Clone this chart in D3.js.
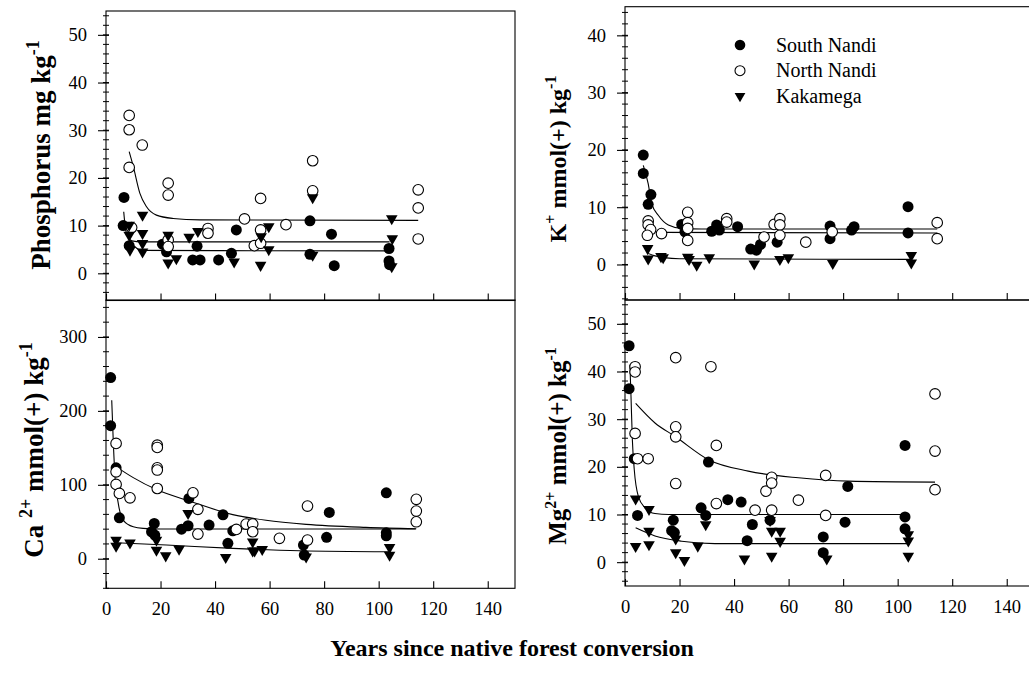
<!DOCTYPE html>
<html>
<head>
<meta charset="utf-8">
<script src="https://cdn.jsdelivr.net/npm/d3@7"></script>
<style>
  body { margin: 0; background: #fff; }
  text { font-family: "Liberation Serif", "Times New Roman", serif; white-space: pre; }
</style>
</head>
<body>
<div class="chart"></div>
<script>
// x ticks shared by all panels
var xTicks = [0, 20, 40, 60, 80, 100, 120, 140];
var seriesNames = ["South Nandi", "North Nandi", "Kakamega"];

// Phosphorus (mg kg-1)
var pTicks = [0, 10, 20, 30, 40, 50];
var pSouth = [[6.6,15.9],[6.3,10.0],[8.5,5.8],[20.7,6.1],[22.2,4.5],[33.4,5.7],[31.8,2.8],[34.5,2.8],[41.3,2.8],[46,4.2],[47.8,9.1],[74.8,11.0],[74.8,4.0],[82.7,8.2],[83.7,1.6],[103.8,5.2],[103.8,2.6],[104,1.8]];
var pNorth = [[8.5,33.1],[8.5,30.1],[13.3,26.9],[8.5,22.2],[9.4,9.6],[22.8,18.9],[22.8,16.4],[22.8,7.0],[22.8,5.6],[37.4,9.4],[37.4,8.4],[50.8,11.4],[54.4,5.8],[56.7,6.3],[56.7,9.1],[56.7,15.7],[66,10.2],[75.8,23.6],[75.8,17.3],[114.5,17.5],[114.5,13.7],[114.5,7.2]];
var pKaka = [[13.4,12.2],[8.5,10.1],[8.5,8.0],[13.4,8.4],[13.4,6.3],[8.8,4.9],[13.4,4.5],[22.8,8.0],[22.8,2.2],[25.8,3.1],[30.5,7.6],[33.7,8.8],[47,2.4],[56.7,1.7],[56.9,7.7],[59.7,9.8],[59.7,5.0],[75.8,15.9],[75.8,3.8],[104.8,11.5],[105,7.3],[104.8,1.4]];
var pCurveSouth = [[6.5,12.9],[7,10],[8,7.6],[9.5,6.8],[13,6.6],[104,6.6]];
var pCurveNorth = [[8.5,25.5],[10,22.4],[12.4,16.8],[14.8,14.0],[18.5,12.2],[24.6,11.5],[34.4,11.2],[114.5,11.1]];
var pCurveKaka = [[8.5,7.2],[10.5,5.6],[13.5,4.8],[104,4.7]];

// Potassium K+
var kTicks = [0, 10, 20, 30, 40];
var kSouth = [[6.7,19.1],[6.7,15.9],[9.5,12.2],[8.5,10.5],[20.8,7.0],[22,5.7],[31.8,5.8],[33.6,6.9],[34.6,6.0],[41.3,6.6],[46.1,2.7],[48.2,2.5],[49.7,3.5],[55.8,3.9],[75.2,6.7],[75.2,4.5],[83.1,6.0],[84,6.6],[103.8,10.1],[103.8,5.5]];
var kNorth = [[8.5,7.6],[8.5,6.9],[9.4,6.1],[8.2,5.1],[13.4,5.4],[23,9.1],[23,7.3],[23,6.3],[23,4.2],[37.3,8.0],[37.3,7.4],[54.7,7.0],[56.8,8.0],[56.8,6.9],[56.8,5.1],[51,4.8],[66.3,3.9],[76,5.7],[114.5,7.3],[114.5,4.5]];
var kKaka = [[8.3,2.8],[8.5,1.0],[13.2,1.4],[14,1.2],[23,1.3],[23.5,0.9],[26.3,-0.1],[30.9,1.2],[47.4,0.1],[56.8,0.9],[59.9,1.2],[76.2,0.2],[105,1.6],[105,0.3]];
var kCurveSouth = [[6.7,17.3],[8.5,14.1],[9.8,10.6],[12.2,8.6],[15.9,6.9],[20.8,6.3],[28,6.2],[114.5,6.2]];
var kCurveNorth = [[13,5.6],[114.5,5.5]];
var kCurveKaka = [[8.5,1.9],[11,1.5],[14.3,1.2],[20,1.0],[105,0.9]];

// Calcium Ca2+
var cTicks = [0, 100, 200, 300];
var cSouth = [[1.7,245],[1.7,180],[3.7,123],[4.9,55.4],[17.7,47.8],[16.7,36.5],[17.9,32],[27.7,40],[30.1,44.6],[30.4,81.6],[37.8,45.5],[42.9,59.5],[44.7,20.8],[46.5,37.8],[72.4,18.5],[72.7,5],[80.9,28.9],[81.9,62.7],[102.8,89.2],[102.8,35],[102.8,31]];
var cNorth = [[3.7,156],[3.7,117.6],[3.7,100.5],[4.9,88.4],[8.8,82.4],[18.8,153.6],[18.8,150.5],[18.8,123],[18.8,120],[18.8,95],[31.9,89.2],[33.7,66.8],[33.7,33.4],[47.8,39.7],[51.4,46.9],[53.8,46.9],[53.8,36.5],[63.6,27.6],[73.9,71.2],[73.9,25.3],[113.8,80.3],[113.8,64.5],[113.8,50]];
var cKaka = [[3.7,25.3],[3.7,17.2],[8.8,21.6],[18.5,25.3],[18.5,11.8],[21.9,4.1],[26.8,13.1],[30.1,61.4],[43.9,1.9],[53.8,23],[53.8,10.8],[54.5,10.8],[57.3,12.7],[73.4,2.7],[104,15.4],[104,5]];
var cCurveSouth = [[2.1,214.5],[2.7,156],[3.3,110.8],[4.5,74.9],[6.3,52.3],[10,43.2],[13.6,41.1],[20,40.3],[113.6,40.3]];
var cCurveNorth = [[3.5,125],[10,109.7],[18.5,93.5],[31,77.5],[46.5,59.7],[58.7,52],[73.4,46.5],[95.3,42.4],[113.8,40.5]];
var cCurveKaka = [[3.7,21.6],[22.2,18.5],[46.5,14],[70.9,10.8],[103.8,9.5]];

// Magnesium Mg2+
var mTicks = [0, 10, 20, 30, 40, 50];
var mSouth = [[1.5,45.4],[1.5,36.4],[3.4,21.7],[4.6,9.8],[17.7,8.8],[17.1,6.6],[18.1,6.2],[27.9,11.4],[29.6,9.8],[30.6,21],[37.7,13.1],[42.6,12.6],[44.8,4.5],[46.7,7.9],[53.2,8.8],[72.7,5.3],[72.7,2],[80.7,8.4],[81.7,15.9],[102.7,24.5],[102.7,9.5],[102.7,7]];
var mNorth = [[3.7,41],[3.7,39.9],[3.7,27],[4.6,21.7],[8.5,21.7],[18.6,42.9],[18.6,28.4],[18.6,26.3],[18.6,16.5],[31.5,41],[33.5,24.5],[33.5,12.3],[47.7,10.9],[51.7,14.9],[53.8,17.8],[53.8,16.6],[53.8,10.9],[63.6,13],[73.6,18.2],[73.6,9.8],[113.7,35.3],[113.7,23.3],[113.7,15.2]];
var mKaka = [[3.9,13.3],[3.9,3.3],[8.8,11.1],[8.8,6.5],[8.8,3.7],[18.6,4.9],[18.6,2],[21.8,0.4],[26.7,3.4],[29.6,7.9],[43.8,0.7],[53.2,8.8],[53.8,6.5],[56.9,6.5],[56.9,4.4],[53.8,1.3],[74,0.7],[103.9,5.8],[103.9,4.5],[103.9,1.3]];
var mCurveSouth = [[1.8,41.4],[2.2,34.8],[2.7,25.7],[3.4,19.4],[4.9,13.8],[7.3,11.4],[11,10.2],[16,10.0],[102.7,10.0]];
var mCurveNorth = [[3.9,33.3],[11,29.2],[18.3,26.4],[30.6,21.5],[45.2,19.1],[63.6,17.7],[81.9,17],[113.7,16.8]];
var mCurveKaka = [[3.9,7.2],[11,5.5],[20.8,4.4],[33,3.9],[103.9,3.9]];

var svg = d3.select(".chart")
  .append("svg")
  .attr("width", 1029)
  .attr("height", 673);

// panel layout, data hooked in from the arrays above
var panels = [
  { left: 106, right: 515, top: 11, bottom: 300.5, yDomain: [-5.7, 55], yTicks: pTicks, minorStep: 2,
    xLabels: false, south: pSouth, north: pNorth, kaka: pKaka, curves: [pCurveSouth, pCurveNorth, pCurveKaka],
    title: [["Phosphorus mg kg", false], ["-1", true]], titleX: 50, titleY: 155, titleSize: 27 },
  { left: 625, right: 1034, top: 6.7, bottom: 300, yDomain: [-6.2, 45], yTicks: kTicks, minorStep: 2,
    xLabels: false, south: kSouth, north: kNorth, kaka: kKaka, curves: [kCurveSouth, kCurveNorth, kCurveKaka],
    title: [["K", false], ["+", true], [" mmol(+) kg", false], ["-1", true]], titleX: 566, titleY: 159, titleSize: 24 },
  { left: 106, right: 515, top: 300, bottom: 588.3, yDomain: [-40, 350], yTicks: cTicks, minorStep: 20,
    xLabels: true, south: cSouth, north: cNorth, kaka: cKaka, curves: [cCurveSouth, cCurveNorth, cCurveKaka],
    title: [["Ca ", false], ["2+", true], [" mmol(+) kg", false], ["-1", true]], titleX: 43, titleY: 450, titleSize: 27 },
  { left: 625, right: 1034, top: 300, bottom: 586, yDomain: [-5, 55], yTicks: mTicks, minorStep: 2,
    xLabels: true, south: mSouth, north: mNorth, kaka: mKaka, curves: [mCurveSouth, mCurveNorth, mCurveKaka],
    title: [["Mg", false], ["2+", true], [" mmol(+) kg", false], ["-1", true]], titleX: 566, titleY: 446, titleSize: 25 }
];

var triangle = d3.symbol().type(d3.symbolTriangle).size(58);

function drawPanel(p) {
  var x = d3.scaleLinear().domain([0, 150]).range([p.left, p.right]);
  var y = d3.scaleLinear().domain(p.yDomain).range([p.bottom, p.top]);
  var g = svg.append("g");

  // frame
  g.append("rect")
    .attr("x", p.left)
    .attr("y", p.top)
    .attr("width", p.right - p.left)
    .attr("height", p.bottom - p.top)
    .attr("fill", "none")
    .attr("stroke", "#000")
    .attr("stroke-width", 1.1);

  // bottom axis, ticks pointing in
  var bottomAxis = d3.axisBottom(x)
    .tickValues(xTicks)
    .tickSize(-7)
    .tickPadding(13.5)
    .tickFormat(p.xLabels ? d3.format("d") : "");
  var xg = g.append("g")
    .attr("transform", `translate(0, ${p.bottom})`)
    .call(bottomAxis)
    .attr("font-family", "'Liberation Serif', serif")
    .attr("font-size", "18.5px");
  xg.select(".domain").remove();
  xg.selectAll("line").attr("stroke", "#000").attr("stroke-width", 1.1);
  xg.selectAll("text").attr("fill", "#000");

  // left axis, major ticks
  var leftAxis = d3.axisLeft(y)
    .tickValues(p.yTicks)
    .tickSize(8)
    .tickPadding(11)
    .tickFormat(d3.format("d"));
  var yg = g.append("g")
    .attr("transform", `translate(${p.left}, 0)`)
    .call(leftAxis)
    .attr("font-family", "'Liberation Serif', serif")
    .attr("font-size", "18.5px");
  yg.select(".domain").remove();
  yg.selectAll("line").attr("stroke", "#000").attr("stroke-width", 1.1).attr("x2", 3).attr("x1", -8);
  yg.selectAll("text").attr("fill", "#000");

  // minor ticks crossing the axis
  var minors = d3.range(Math.ceil(p.yDomain[0] / p.minorStep) * p.minorStep, p.yDomain[1], p.minorStep);
  g.selectAll(".minor")
    .data(minors)
    .enter()
    .append("line")
    .attr("x1", p.left - 3)
    .attr("x2", p.left + 3)
    .attr("y1", d => y(d))
    .attr("y2", d => y(d))
    .attr("stroke", "#000")
    .attr("stroke-width", 1);

  // fitted curves
  var line = d3.line()
    .x(d => x(d[0]))
    .y(d => y(d[1]))
    .curve(d3.curveMonotoneX);
  p.curves.forEach(function (c) {
    g.append("path")
      .attr("d", line(c))
      .attr("fill", "none")
      .attr("stroke", "#000")
      .attr("stroke-width", 1.1);
  });

  // South Nandi - filled circles
  g.selectAll(".south")
    .data(p.south)
    .enter()
    .append("circle")
    .attr("cx", d => x(d[0]))
    .attr("cy", d => y(d[1]))
    .attr("r", 5.5)
    .attr("fill", "#000");

  // North Nandi - open circles
  g.selectAll(".north")
    .data(p.north)
    .enter()
    .append("circle")
    .attr("cx", d => x(d[0]))
    .attr("cy", d => y(d[1]))
    .attr("r", 5.3)
    .attr("fill", "#fff")
    .attr("stroke", "#000")
    .attr("stroke-width", 1.1);

  // Kakamega - down triangles
  g.selectAll(".kaka")
    .data(p.kaka)
    .enter()
    .append("path")
    .attr("d", triangle)
    .attr("transform", d => `translate(${x(d[0])}, ${y(d[1])}) rotate(180)`)
    .attr("fill", "#000");

  // rotated y title with superscripts
  var t = svg.append("text")
    .attr("transform", `translate(${p.titleX}, ${p.titleY}) rotate(-90)`)
    .attr("text-anchor", "middle")
    .attr("font-weight", "bold")
    .attr("font-size", p.titleSize + "px");
  var raised = false;
  var lift = Math.round(p.titleSize * 0.4);
  p.title.forEach(function (part) {
    var shift = 0;
    if (part[1] && !raised) { shift = -lift; raised = true; }
    else if (!part[1] && raised) { shift = lift; raised = false; }
    t.append("tspan")
      .attr("dy", shift)
      .attr("font-size", part[1] ? Math.round(p.titleSize * 0.65) + "px" : p.titleSize + "px")
      .text(part[0]);
  });
}

panels.forEach(drawPanel);

// legend in the K+ panel
var legend = svg.append("g");
var legendY = [45, 70.7, 96];
seriesNames.forEach(function (name, i) {
  if (i == 0) {
    legend.append("circle").attr("cx", 740).attr("cy", legendY[i]).attr("r", 5.3).attr("fill", "#000");
  } else if (i == 1) {
    legend.append("circle").attr("cx", 740).attr("cy", legendY[i]).attr("r", 5)
      .attr("fill", "#fff").attr("stroke", "#000").attr("stroke-width", 1.1);
  } else {
    legend.append("path").attr("d", d3.symbol().type(d3.symbolTriangle).size(50))
      .attr("transform", `translate(740, ${legendY[i]}) rotate(180)`).attr("fill", "#000");
  }
  legend.append("text")
    .attr("x", 776)
    .attr("y", legendY[i] + 6.5)
    .attr("font-size", "20px")
    .text(name);
});

// x title
svg.append("text")
  .attr("x", 512)
  .attr("y", 656)
  .attr("text-anchor", "middle")
  .attr("font-weight", "bold")
  .attr("font-size", "24px")
  .text("Years since native forest conversion");
</script>
</body>
</html>
